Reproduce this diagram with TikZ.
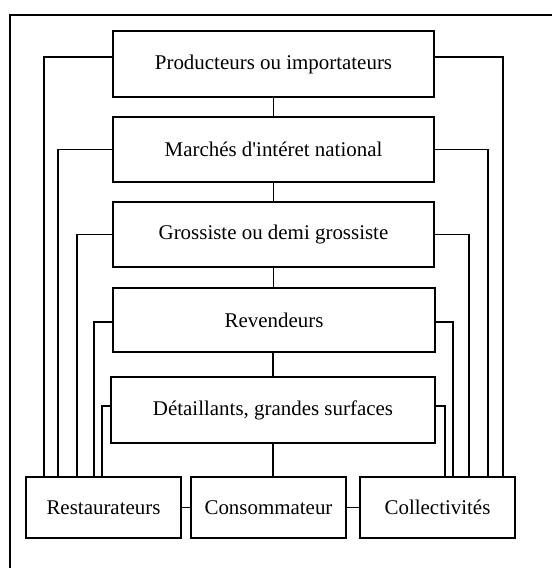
\documentclass[tikz,border=0pt]{standalone}
\usepackage{fontspec}
\setmainfont{Liberation Serif}[Ligatures=TeXReset]
\usetikzlibrary{calc, positioning}

\begin{document}
\begin{tikzpicture}[x=0.75pt, y=-0.75pt,
    box/.style={draw, line width=0.8pt, inner sep=0pt, outer sep=0pt,
        font=\fontsize{15.7}{18}\selectfont},
    link/.style={draw, line width=0.8pt}]

% Define the box sizes (in pixels)
\def\boxwidth{321*0.75pt}
\def\boxheight{65*0.75pt}
\def\smallwidth{155*0.75pt}
\def\smallheight{61*0.75pt}

\useasboundingbox (0,0) rectangle (552,568);

% Frame
\draw[line width=1.6pt] (10,570) -- (10,15) -- (554,15);

% The chain of boxes
\node[box, minimum width=\boxwidth, minimum height=66*0.75pt] (prod) at (273.5,64) {Producteurs ou importateurs};
\node[box, minimum width=\boxwidth, minimum height=\boxheight] (march) at (273.5,149.5) {Marchés d'intéret national};
\node[box, minimum width=\boxwidth, minimum height=\boxheight] (gross) at (273.5,234.5) {Grossiste ou demi grossiste};
\node[box, minimum width=322*0.75pt, minimum height=64*0.75pt] (reven) at (274,320) {Revendeurs};
\node[box, minimum width=324*0.75pt, minimum height=66*0.75pt] (detail) at (273,410) {Détaillants, grandes surfaces};

% The three boxes at the bottom
\node[box, minimum width=\smallwidth, minimum height=\smallheight] (rest) at (103.5,507.5) {Restaurateurs};
\node[box, minimum width=\smallwidth, minimum height=\smallheight] (cons) at (268.5,507.5) {Consommateur};
\node[box, minimum width=\smallwidth, minimum height=\smallheight] (coll) at (437.5,507.5) {Collectivités};

% Links down the middle
\draw[link] (prod.south) -- (march.north);
\draw[link] (march.south) -- (gross.north);
\draw[link] (gross.south) -- (reven.north -| gross.south);
\draw[link] (reven.south -| detail.north) -- (detail.north);
\draw[link] (detail.south) -- (detail.south |- cons.north);
\draw[link] (rest.east) -- (cons.west);
\draw[link] (cons.east) -- (coll.west);

% Links round the sides
\foreach \src/\dy/\lx/\rx in {prod/-7/18/12, march/0/32/27, gross/0/51/46, reven/2/68/62, detail/-4/76/70} {
    \draw[link] ($(\src.west)+(0,\dy)$) -| ($(rest.north west)+(\lx,0)$);
    \draw[link] ($(\src.east)+(0,\dy)$) -| ($(coll.north east)+(-\rx,0)$);
}

\end{tikzpicture}
\end{document}
